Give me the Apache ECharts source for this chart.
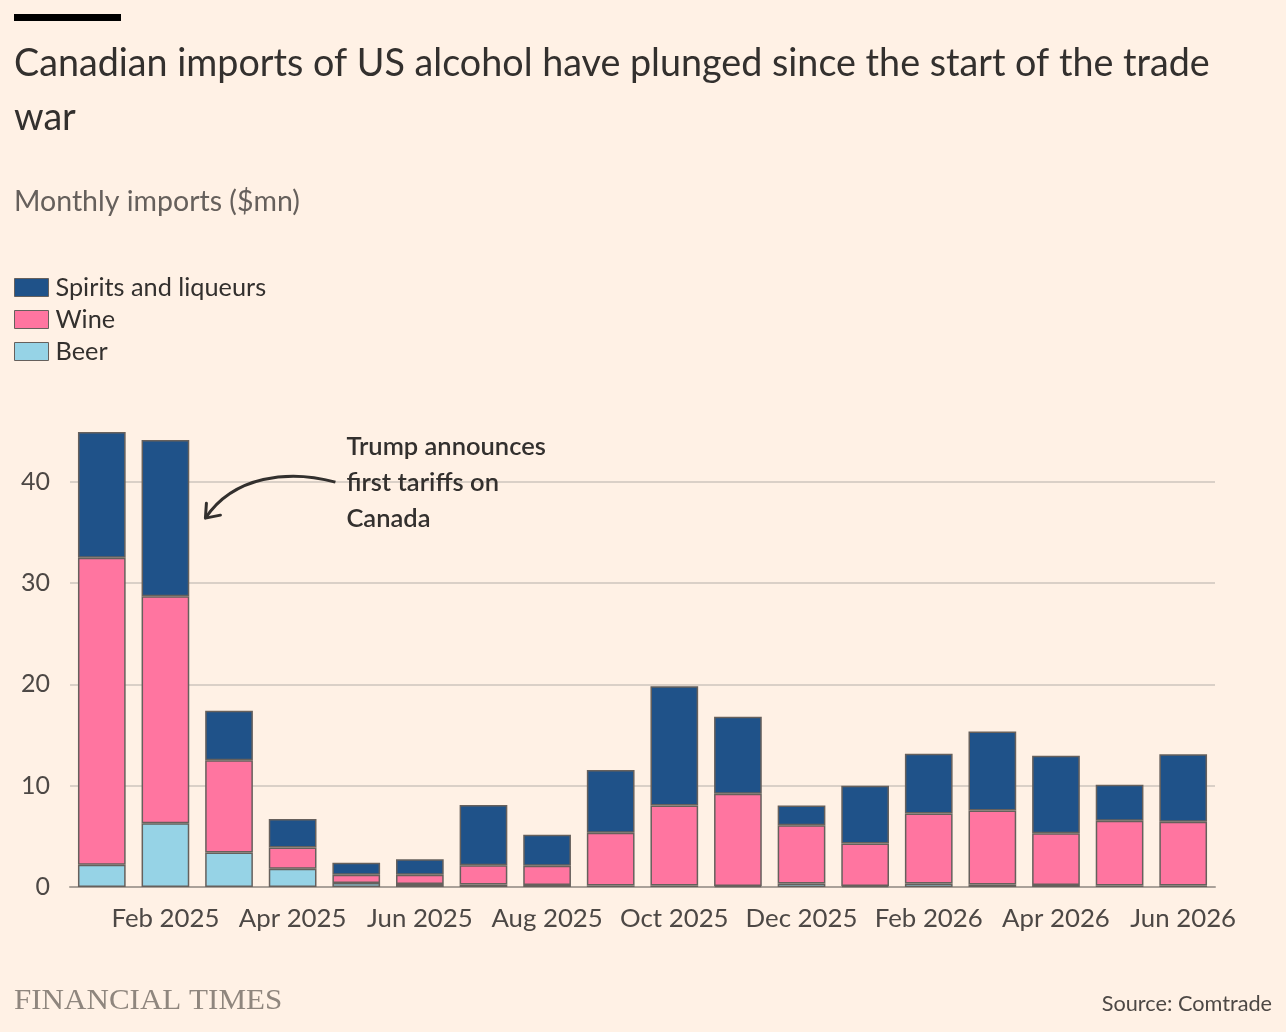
<!DOCTYPE html>
<html>
<head>
<meta charset="utf-8">
<script src="https://cdn.jsdelivr.net/npm/echarts@6/dist/echarts.min.js"></script>
<style>
  html, body { margin: 0; padding: 0; background: #FFF1E5; }
  #chart { width: 1286px; height: 1032px; }
</style>
</head>
<body>
<div id="chart"></div>
<script>
const months = ['Jan 2025', 'Feb 2025', 'Mar 2025', 'Apr 2025', 'May 2025', 'Jun 2025',
  'Jul 2025', 'Aug 2025', 'Sep 2025', 'Oct 2025', 'Nov 2025', 'Dec 2025',
  'Jan 2026', 'Feb 2026', 'Mar 2026', 'Apr 2026', 'May 2026', 'Jun 2026'];
const beer = [2.2, 6.3, 3.4, 1.8, 0.4, 0.3, 0.25, 0.2, 0.15, 0.15, 0.1, 0.35, 0.1, 0.35, 0.25, 0.2, 0.15, 0.15];
const wine = [30.3, 22.4, 9.1, 2.1, 0.8, 0.9, 1.9, 1.9, 5.2, 7.9, 9.1, 5.75, 4.2, 6.9, 7.3, 5.1, 6.4, 6.3];
const spirits = [12.4, 15.4, 4.9, 2.8, 1.2, 1.55, 5.95, 3.05, 6.2, 11.75, 7.6, 1.95, 5.7, 5.9, 7.8, 7.65, 3.55, 6.65];
const yTicks = [0, 10, 20, 30, 40];

const FONT = 'Lato, "Open Sans", sans-serif';
const TEXT = '#33302e';
const BORDER = '#66605c';

const chart = echarts.init(document.getElementById('chart'));

function barSeries(name, data, color) {
  return {
    name: name,
    type: 'bar',
    stack: 'total',
    data: data,
    barWidth: '75%',
    itemStyle: { color: color, borderColor: BORDER, borderWidth: 1.5 },
    emphasis: { disabled: true }
  };
}

chart.setOption({
  backgroundColor: '#FFF1E5',
  animation: false,
  textStyle: { fontFamily: FONT },
  title: [
    {
      text: 'Canadian imports of US alcohol have plunged since the start of the trade\nwar',
      left: 14, top: 37, padding: 0,
      textStyle: { fontFamily: FONT, fontSize: 37.7, lineHeight: 54, fontWeight: 'normal', color: TEXT }
    },
    {
      text: 'Monthly imports ($mn)',
      left: 14, top: 186, padding: 0,
      textStyle: { fontFamily: FONT, fontSize: 28.5, lineHeight: 32, fontWeight: 'normal', color: '#66605c' }
    }
  ],
  legend: {
    data: ['Spirits and liqueurs', 'Wine', 'Beer'],
    orient: 'vertical',
    left: 14, top: 275, padding: 0,
    itemWidth: 34, itemHeight: 18, itemGap: 7,
    icon: 'rect',
    itemStyle: { borderColor: BORDER, borderWidth: 1 },
    textStyle: { fontFamily: FONT, fontSize: 25.3, color: TEXT, padding: [0, 0, 0, 2] },
    selectedMode: false
  },
  grid: { left: 70, right: 71, top: 431, bottom: 145 },
  xAxis: {
    type: 'category',
    data: months,
    axisLine: { lineStyle: { color: '#aaa199', width: 2 } },
    axisTick: { alignWithLabel: true, interval: 0, length: 9, lineStyle: { color: '#a29a93', width: 2 } },
    axisLabel: {
      interval: function (i) { return i % 2 === 1; },
      margin: 19,
      fontFamily: FONT, fontSize: 25.8, color: '#4d4845'
    }
  },
  yAxis: {
    type: 'value',
    min: 0, max: 45, interval: 10,
    axisLine: { show: false },
    axisTick: { show: false },
    axisLabel: {
      margin: 20, showMaxLabel: false,
      fontFamily: FONT, fontSize: 25, color: '#4d4845',
      formatter: function (v) { return yTicks.indexOf(v) >= 0 ? String(v) : ''; }
    },
    splitLine: { showMaxLine: false, lineStyle: { color: '#cec5bc', width: 1.5 } }
  },
  series: [
    barSeries('Beer', beer, '#96D3E6'),
    barSeries('Wine', wine, '#FF75A0'),
    barSeries('Spirits and liqueurs', spirits, '#1F5289')
  ]
});

// annotation arrow, anchored beside the Feb 2025 bar
const anchor = chart.convertToPixel({ xAxisIndex: 0, yAxisIndex: 0 }, ['Feb 2025', 36.4]);
const tx = anchor[0] + 40;
const ty = anchor[1];

chart.setOption({
  graphic: [
    { type: 'rect', left: 14, top: 14, shape: { width: 107, height: 7 }, style: { fill: '#000' } },
    {
      type: 'bezierCurve',
      shape: { x1: tx + 130, y1: ty - 36, cpx1: tx + 83, cpy1: ty - 49, cpx2: tx + 28, cpy2: ty - 42, x2: tx, y2: ty },
      style: { stroke: TEXT, lineWidth: 3, fill: null }
    },
    {
      type: 'polyline',
      shape: { points: [[tx + 1, ty - 15], [tx, ty], [tx + 15, ty - 3]] },
      style: { stroke: TEXT, lineWidth: 3, fill: null, lineJoin: 'round', lineCap: 'round' }
    },
    {
      type: 'text',
      x: tx + 141, y: ty - 89,
      style: {
        text: 'Trump announces\nfirst tariffs on\nCanada',
        font: '600 25.5px ' + FONT, lineHeight: 36, fill: TEXT,
        textVerticalAlign: 'top'
      }
    },
    {
      type: 'text',
      x: 14, y: 1001, scaleX: 1.035,
      style: {
        text: 'FINANCIAL TIMES',
        font: '30px "Liberation Serif", "DejaVu Serif", serif', fill: '#8f867e',
        textVerticalAlign: 'middle'
      }
    },
    {
      type: 'text',
      x: 1272, y: 1004,
      style: {
        text: 'Source: Comtrade',
        font: '21.7px ' + FONT, fill: '#4d4845',
        textAlign: 'right', textVerticalAlign: 'middle'
      }
    }
  ]
});
</script>
</body>
</html>
